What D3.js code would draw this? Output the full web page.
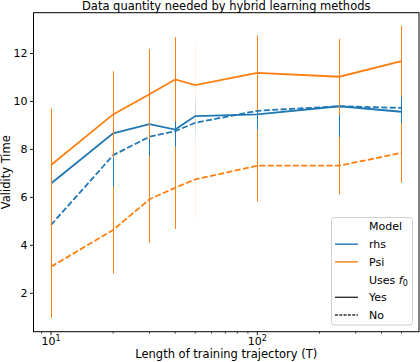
<!DOCTYPE html>
<html>
<head>
<meta charset="utf-8">
<script src="https://cdn.jsdelivr.net/npm/d3@7"></script>
<style>
  body { margin: 0; background: #fff; }
  svg text { font-family: "DejaVu Sans", sans-serif; fill: #000; }
</style>
</head>
<body>
<div id="chart"></div>
<script>
// training lengths (x) and mean validity time per method
const T = [10, 20, 30, 40, 50, 100, 250, 500]
const rhsYes = [6.58, 8.67, 9.05, 8.83, 9.39, 9.46, 9.80, 9.57]
const rhsNo = [4.85, 7.76, 8.53, 8.76, 9.11, 9.61, 9.80, 9.73]
const psiYes = [7.35, 9.46, 10.30, 10.92, 10.68, 11.19, 11.03, 11.68]
const psiNo = [3.11, 4.64, 5.92, 6.40, 6.75, 7.32, 7.32, 7.86]
// half widths of the error bars
const rhsYesErr = [1.2, 1.1, 0.9, 0.6, 0.7, 0.8, 1.1, 0.8]
const rhsNoErr = [1.5, 1.6, 1.0, 0.7, 0.8, 0.9, 1.3, 0.8]
const psiYesErr = [2.36, 1.80, 1.88, 1.76, 1.67, 1.57, 1.57, 1.47]
const psiNoErr = [2.13, 1.81, 1.81, 1.72, 1.61, 1.50, 1.20, 1.25]

const yTicks = [2, 4, 6, 8, 10, 12]
const xMajor = [10, 100]
const xMinor = [9, 20, 30, 40, 50, 60, 70, 80, 90, 200, 300, 400, 500]
const faintT = 50 // bars at this T come out washed out in the original

const width = 420
const height = 362
const mLeft = 33.5, mRight = 419, mTop = 12.7, mBottom = 331.7

const blue = "#1f77b4"
const orange = "#ff7f0e"

const svg = d3
  .select("#chart")
  .append("svg")
  .attr("width", width)
  .attr("height", height)

// log x with matplotlib style margins
const lmin = Math.log10(d3.min(T)), lmax = Math.log10(d3.max(T))
const pad = (lmax - lmin) * 0.05
const x = d3.scaleLog()
  .domain([Math.pow(10, lmin - pad), Math.pow(10, lmax + pad)])
  .range([mLeft, mRight])

const y = d3.scaleLinear().domain([0.4, 13.7]).range([mBottom, mTop])

const series = [
  { vals: rhsYes, err: rhsYesErr, color: blue, dash: null },
  { vals: rhsNo, err: rhsNoErr, color: blue, dash: "6,2.4" },
  { vals: psiYes, err: psiYesErr, color: orange, dash: null },
  { vals: psiNo, err: psiNoErr, color: orange, dash: "6,2.4" },
]

const plot = svg.append("g")
plot.append("clipPath").attr("id", "clip")
  .append("rect").attr("x", mLeft).attr("y", mTop)
  .attr("width", mRight - mLeft).attr("height", mBottom - mTop)

const inner = plot.append("g").attr("clip-path", "url(#clip)")

const line = d3.line()
  .x(function (d) { return x(d[0]) })
  .y(function (d) { return y(d[1]) })

series.forEach(function (s) {
  const pts = T.map(function (t, i) { return [t, s.vals[i]] })
  inner.append("path")
    .datum(pts)
    .attr("d", line)
    .attr("fill", "none")
    .attr("stroke", s.color)
    .attr("stroke-width", 1.8)
    .attr("stroke-dasharray", s.dash)

  inner.selectAll(null)
    .data(T.map(function (t, i) { return { t: t, v: s.vals[i], e: s.err[i] } }))
    .enter()
    .append("line")
    .attr("x1", function (d) { return Math.round(x(d.t)) + 0.5 })
    .attr("x2", function (d) { return Math.round(x(d.t)) + 0.5 })
    .attr("y1", function (d) { return y(d.v - d.e) })
    .attr("y2", function (d) { return y(d.v + d.e) })
    .attr("stroke", s.color)
    .attr("stroke-width", 1)
    .attr("opacity", function (d) { return d.t === faintT ? 0.1 : 1 })
})

// frame
svg.append("rect")
  .attr("x", mLeft).attr("y", mTop)
  .attr("width", mRight - mLeft).attr("height", mBottom - mTop)
  .attr("fill", "none").attr("stroke", "#000").attr("stroke-width", 1)

// y axis ticks
const yAx = svg.append("g")
yAx.selectAll("line").data(yTicks).enter().append("line")
  .attr("x1", mLeft - 3.5).attr("x2", mLeft)
  .attr("y1", function (d) { return y(d) }).attr("y2", function (d) { return y(d) })
  .attr("stroke", "#000").attr("stroke-width", 0.9)
yAx.selectAll("text").data(yTicks).enter().append("text")
  .attr("x", mLeft - 6).attr("y", function (d) { return y(d) })
  .attr("dy", "0.36em")
  .attr("text-anchor", "end")
  .style("font-size", "11px")
  .text(function (d) { return d })

// x axis ticks
const xAx = svg.append("g")
xAx.selectAll("line.major").data(xMajor).enter().append("line")
  .attr("class", "major")
  .attr("x1", function (d) { return x(d) }).attr("x2", function (d) { return x(d) })
  .attr("y1", mBottom).attr("y2", mBottom + 3.5)
  .attr("stroke", "#000").attr("stroke-width", 0.9)
xAx.selectAll("line.minor").data(xMinor).enter().append("line")
  .attr("class", "minor")
  .attr("x1", function (d) { return x(d) }).attr("x2", function (d) { return x(d) })
  .attr("y1", mBottom).attr("y2", mBottom + 2)
  .attr("stroke", "#000").attr("stroke-width", 0.7)
const xl = xAx.selectAll("text").data(xMajor).enter().append("text")
  .attr("x", function (d) { return x(d) }).attr("y", mBottom + 13)
  .attr("text-anchor", "middle")
  .style("font-size", "11px")
xl.append("tspan").text("10")
xl.append("tspan").attr("dy", -4).style("font-size", "8px")
  .text(function (d) { return String(Math.round(Math.log10(d))) })

// labels
svg.append("text")
  .attr("x", (mLeft + mRight) / 2).attr("y", 358)
  .attr("text-anchor", "middle")
  .style("font-size", "11.5px")
  .text("Length of training trajectory (T)")

svg.append("text")
  .attr("transform", "translate(10," + (mTop + mBottom) / 2 + ") rotate(-90)")
  .attr("text-anchor", "middle")
  .style("font-size", "11.5px")
  .text("Validity Time")

svg.append("text")
  .attr("x", (mLeft + mRight) / 2).attr("y", 9.5)
  .attr("text-anchor", "middle")
  .style("font-size", "11.5px")
  .text("Data quantity needed by hybrid learning methods")

// legend
const lg = svg.append("g")
lg.append("rect")
  .attr("x", 331.5).attr("y", 217.5)
  .attr("width", 81).attr("height", 107.5)
  .attr("rx", 2.5)
  .attr("fill", "#fff").attr("fill-opacity", 0.8)
  .attr("stroke", "#d0d0d0").attr("stroke-width", 1)

const legendItems = [
  { label: "Model", color: null, dash: null },
  { label: "rhs", color: blue, dash: null },
  { label: "Psi", color: orange, dash: null },
  { label: "Uses", color: null, dash: null, f0: true },
  { label: "Yes", color: "#333", dash: null },
  { label: "No", color: "#333", dash: "3,1.3" },
]
legendItems.forEach(function (d, i) {
  const cy = 226.5 + i * 17.7
  if (d.color) {
    lg.append("line")
      .attr("x1", 335).attr("x2", 358)
      .attr("y1", cy).attr("y2", cy)
      .attr("stroke", d.color).attr("stroke-width", 1.4)
      .attr("stroke-dasharray", d.dash)
  }
  const t = lg.append("text")
    .attr("x", 369).attr("y", cy).attr("dy", "0.36em")
    .style("font-size", "11px")
    .text(d.label)
  if (d.f0) {
    t.append("tspan").text(" ")
    t.append("tspan").style("font-style", "italic").text("f")
    t.append("tspan").attr("dy", 2.5).style("font-size", "8px").text("0")
  }
})
</script>
</body>
</html>
